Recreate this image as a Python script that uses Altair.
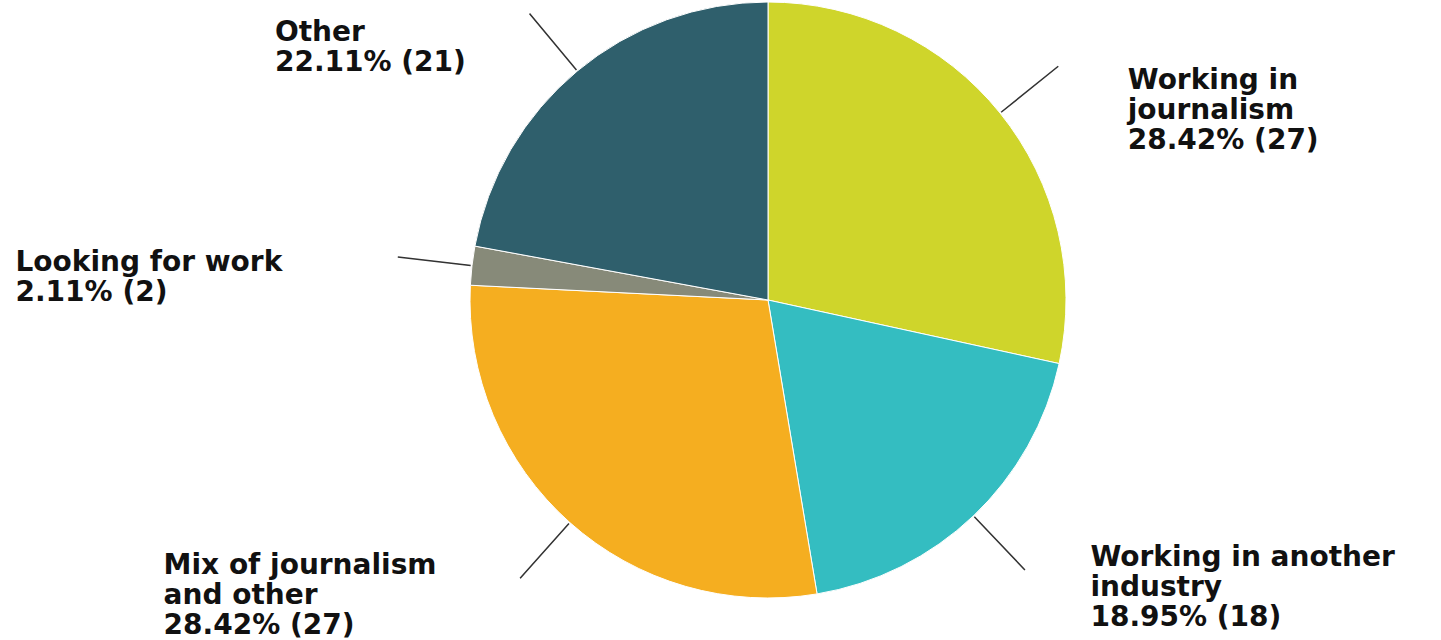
import altair as alt
import pandas as pd

categories = ["Working in journalism", "Working in another industry",
              "Mix of journalism and other", "Looking for work", "Other"]
counts = [27, 18, 27, 2, 21]
label_names = ["Working in\njournalism", "Working in another\nindustry",
               "Mix of journalism\nand other", "Looking for work", "Other"]
colors = ["#CFD52B", "#34BDC1", "#F5AE20", "#878A79", "#2F5F6C"]

total = sum(counts)
labels = [f"{n}\n{c / total * 100:.2f}% ({c})" for n, c in zip(label_names, counts)]

df = pd.DataFrame({"idx": list(range(len(categories))), "category": categories,
                   "count": counts, "label": labels})

theta_scale = alt.Scale(domain=[0, 1], range=[0, 6.283185307179586])

base = alt.Chart(df).transform_joinaggregate(
    total="sum(count)"
).transform_window(
    cum="sum(count)", sort=[alt.SortField("idx")], frame=[None, 0]
).transform_calculate(
    f0="(datum.cum - datum.count) / datum.total",
    f1="datum.cum / datum.total",
    fm="(datum.cum - datum.count / 2) / datum.total",
    la="(datum.cum - datum.count / 2) / datum.total - 0.00003",
    lb="(datum.cum - datum.count / 2) / datum.total + 0.00003",
)

pie = base.mark_arc(radius=298, stroke="white", strokeWidth=1).encode(
    theta=alt.Theta("f0:Q", scale=theta_scale),
    theta2="f1:Q",
    color=alt.Color("category:N", scale=alt.Scale(domain=categories, range=colors), legend=None),
)

leaders = base.mark_arc(radius=372, radius2=300, color="#333333",
                        stroke="#333333", strokeWidth=1.4).encode(
    theta=alt.Theta("la:Q", scale=theta_scale),
    theta2="lb:Q",
)

# per-label offsets from the leader end to the label block's top-left corner
offsets = [(70, 0), (66, -25), (-357, -26), (-383, -8), (-255, 5)]
texts = []
for i, (dx, dy) in enumerate(offsets):
    texts.append(
        base.transform_filter(f"datum.idx == {i}").mark_text(
            radius=372, dx=dx, dy=dy, align="left", baseline="top",
            lineBreak="\n", lineHeight=30, font="DejaVu Sans", fontWeight="bold",
            fontSize=28, color="#111111",
        ).encode(
            theta=alt.Theta("fm:Q", scale=theta_scale),
            text="label:N",
        )
    )

chart = alt.layer(pie, leaders, *texts).properties(
    width=1346, height=600,
    autosize=alt.AutoSizeParams(type="none"),
    padding={"left": 95, "top": 0, "right": 0, "bottom": 40},
).configure_view(stroke=None)

chart.save("out.html", embed_options={"renderer": "svg", "actions": False})
